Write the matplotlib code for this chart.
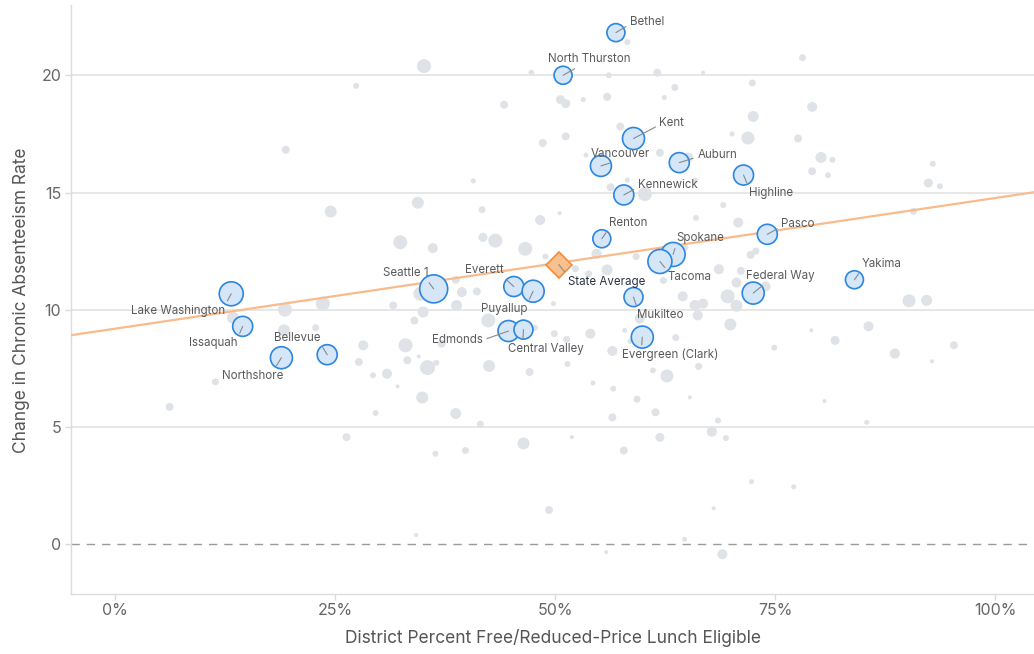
import matplotlib
matplotlib.use("Agg")
import matplotlib.pyplot as plt
import numpy as np

plt.rcParams['font.family'] = ['Inter', 'DejaVu Sans']

# ---------------- data ----------------
# background districts: free/reduced lunch %, change in chronic absenteeism, enrollment (thousands)
other_frl = [58.2, 35.1, 78.1, 27.4, 47.3, 56.1, 61.6, 66.8, 63.6, 62.4, 55.9, 53.2, 50.6, 51.2, 44.2,
             72.4, 79.2, 72.5, 70.1, 71.9, 77.6, 80.2, 81.5, 79.2, 81.0, 92.9, 92.4, 93.7, 69.1, 70.8,
             90.7, 72.2, 72.8, 68.6, 71.1, 70.6, 69.6, 70.6, 66.8, 73.9, 90.2, 92.2, 69.9, 85.6, 79.1,
             74.9, 81.8, 88.6, 92.8, 95.3, 80.6, 85.4, 68.5, 67.8, 69.4, 72.3, 77.1, 68.0, 69.0, 28.2,
             33.0, 27.7, 33.2, 34.5, 35.5, 36.5, 29.3, 30.9, 32.1, 34.9, 29.6, 38.7, 41.5, 42.5, 47.1,
             49.9, 51.3, 54.0, 51.4, 56.5, 54.3, 56.6, 59.3, 56.5, 61.4, 61.9, 57.8, 61.1, 62.7, 65.3,
             63.7, 51.9, 46.4, 39.8, 36.4, 49.3, 34.2, 64.7, 55.8, 26.3, 6.2, 11.4, 19.2, 22.8, 13.4,
             19.3, 23.6, 31.6, 32.4, 19.4, 24.5, 40.7, 48.6, 51.2, 57.4, 53.5, 61.9, 65.1, 58.2, 56.3,
             60.2, 65.9, 34.4, 41.7, 50.5, 48.3, 66.0, 36.1, 41.8, 43.2, 46.6, 48.9, 54.7, 59.2, 55.9,
             53.8, 62.3, 64.5, 65.9, 34.7, 38.7, 39.4, 41.1, 38.8, 35.0, 34.0, 42.4, 49.8, 52.3, 37.1,
             47.7, 64.8, 66.2, 59.6, 57.9, 58.5, 66.3]
other_change = [21.43, 20.40, 20.76, 19.56, 20.12, 20.01, 20.12, 20.12, 19.49, 19.06, 19.09, 18.97, 18.97, 18.80, 18.75,
                19.68, 18.66, 18.25, 17.50, 17.33, 17.31, 16.50, 16.40, 15.91, 15.74, 16.23, 15.41, 15.27, 14.47, 13.72,
                14.20, 12.34, 12.50, 11.73, 11.66, 11.16, 10.57, 10.17, 10.26, 10.99, 10.38, 10.40, 9.37, 9.29, 9.12,
                8.38, 8.69, 8.13, 7.80, 8.48, 6.10, 5.19, 5.27, 4.79, 4.52, 2.66, 2.44, 1.52, -0.44, 8.48,
                8.48, 7.77, 7.84, 8.01, 7.53, 7.73, 7.20, 7.27, 6.73, 6.25, 5.59, 5.57, 5.11, 7.60, 7.34,
                8.98, 8.73, 8.98, 7.68, 8.24, 6.87, 6.63, 6.18, 5.40, 5.62, 4.55, 3.99, 7.41, 7.17, 6.26,
                8.81, 4.56, 4.29, 3.99, 3.85, 1.45, 0.38, 0.20, -0.35, 4.56, 5.85, 6.92, 9.12, 9.23, 9.66,
                10.00, 10.26, 10.18, 12.88, 16.83, 14.19, 15.50, 17.12, 17.40, 17.82, 16.60, 16.70, 16.50, 15.54, 15.23,
                14.94, 15.51, 14.57, 14.27, 14.12, 13.83, 13.92, 12.63, 13.09, 12.95, 12.60, 12.27, 12.39, 12.27, 11.70,
                11.53, 11.25, 10.57, 10.18, 10.68, 11.28, 10.75, 10.78, 10.18, 9.90, 9.54, 9.54, 10.26, 11.75, 8.55,
                9.23, 12.64, 9.76, 9.62, 9.12, 8.65, 7.58]
other_enroll = [2.4, 13.2, 3.3, 2.4, 2.4, 2.4, 4.3, 1.1, 3.3, 1.7, 4.3, 1.7, 5.5, 5.5, 4.3,
                3.3, 6.8, 8.2, 1.7, 11.4, 4.3, 8.2, 2.4, 4.3, 2.4, 2.4, 5.5, 2.4, 2.4, 6.8,
                3.3, 4.3, 3.3, 6.8, 4.3, 6.8, 13.2, 9.7, 6.8, 6.8, 11.4, 8.2, 9.7, 6.8, 1.1,
                2.4, 5.5, 6.8, 1.1, 4.3, 1.1, 1.7, 2.4, 6.8, 2.4, 1.7, 1.7, 1.1, 6.8, 6.8,
                13.2, 4.3, 4.3, 1.1, 15.2, 2.4, 2.4, 6.8, 1.1, 9.7, 2.4, 8.2, 3.3, 9.7, 4.3,
                3.3, 3.3, 6.8, 2.4, 6.8, 1.7, 2.4, 3.3, 4.3, 4.3, 5.5, 4.3, 2.4, 11.4, 1.1,
                3.3, 1.1, 9.7, 3.3, 2.4, 4.3, 1.1, 1.7, 1.1, 4.3, 4.3, 3.3, 9.7, 3.3, 9.7,
                13.2, 13.2, 4.3, 13.2, 4.3, 9.7, 1.7, 4.3, 4.3, 4.3, 1.7, 4.3, 6.8, 1.7, 4.3,
                13.2, 2.4, 9.7, 3.3, 1.1, 6.8, 2.4, 6.8, 5.5, 13.2, 13.2, 2.4, 6.8, 3.3, 8.2,
                3.3, 3.3, 6.8, 8.2, 13.2, 4.3, 6.8, 4.3, 8.2, 8.2, 4.3, 13.2, 1.7, 3.3, 4.3,
                2.4, 2.4, 6.8, 6.8, 1.7, 1.7, 3.3]

# highlighted districts
hl_names = ["Bethel", "North Thurston", "Kent", "Vancouver", "Auburn", "Kennewick", "Renton",
            "Spokane", "Tacoma", "Seattle 1", "Everett", "Puyallup", "Mukilteo", "Highline",
            "Pasco", "Federal Way", "Yakima", "Lake Washington", "Issaquah", "Northshore",
            "Bellevue", "Edmonds", "Central Valley", "Evergreen (Clark)"]
hl_frl = [56.9, 50.9, 58.9, 55.2, 64.1, 57.8, 55.3, 63.4, 61.9, 36.2, 45.3, 47.5, 58.9, 71.4,
          74.1, 72.5, 84.0, 13.2, 14.5, 18.9, 24.1, 44.7, 46.4, 59.9]
hl_change = [21.83, 20.01, 17.31, 16.14, 16.28, 14.90, 13.03, 12.36, 12.06, 10.89, 10.99, 10.79,
             10.54, 15.75, 13.22, 10.71, 11.28, 10.68, 9.29, 7.95, 8.08, 9.09, 9.15, 8.83]
hl_enroll = [21.9, 21.9, 32.7, 29.8, 27.0, 27.0, 21.9, 38.9, 38.9, 52.9, 27.0, 32.7, 24.4, 27.0,
             27.0, 32.7, 21.9, 38.9, 27.0, 32.7, 27.0, 29.8, 24.4, 32.7]

state_avg_frl = 50.4
state_avg_change = 11.93

trend_intercept = 9.19
trend_slope = 0.0558

x_ticks = [0, 25, 50, 75, 100]
x_tick_labels = ["0%", "25%", "50%", "75%", "100%"]
y_ticks = [0, 5, 10, 15, 20]

# ---------------- label placement (offset pixels, alignment, leader anchor on text) ----------------
label_pos = {
    "Bethel": (14, 11, "left", (0.0, 0.3)),
    "North Thurston": (26, 16, "center", (0.4, 0.0)),
    "Kent": (26, 16, "left", (0.0, 0.3)),
    "Vancouver": (19, 12, "center", (0.5, 0.0)),
    "Auburn": (18, 8, "left", (0.0, 0.3)),
    "Kennewick": (14, 10, "left", (0.0, 0.3)),
    "Renton": (7, 16, "left", (0.0, 0.0)),
    "Spokane": (3, 16, "left", (0.0, 0.0)),
    "Tacoma": (8, -16, "left", (0.0, 1.0)),
    "Seattle 1": (-28, 16, "center", (0.95, 0.0)),
    "Everett": (-10, 17, "right", (0.95, 0.0)),
    "Puyallup": (-29, -18, "center", (1.0, 1.0)),
    "Mukilteo": (4, -18, "left", (0.0, 1.0)),
    "Highline": (5, -18, "left", (0.0, 1.0)),
    "Pasco": (14, 10, "left", (0.0, 0.3)),
    "Federal Way": (-7, 17, "left", (0.3, 0.0)),
    "Yakima": (7, 16, "left", (0.0, 0.0)),
    "Lake Washington": (-6, -17, "right", (1.0, 1.0)),
    "Issaquah": (-29, -17, "center", (1.0, 1.0)),
    "Northshore": (-29, -18, "center", (0.85, 1.0)),
    "Bellevue": (-30, 17, "center", (1.0, 0.0)),
    "Edmonds": (-51, -9, "center", (1.0, 0.5)),
    "Central Valley": (22, -19, "center", (0.2, 1.0)),
    "Evergreen (Clark)": (28, -18, "center", (0.2, 1.0)),
}

SIZE_PER_K = 7.68

fig = plt.figure(figsize=(10.34, 6.54), dpi=100)
ax = fig.add_axes([0.0687, 0.0913, 0.9313, 0.9007])

ax.set_xlim(-5.0, 104.4)
ax.set_ylim(-2.15, 23.0)

# grid
for yv in y_ticks:
    if yv == 0:
        ax.axhline(yv, color="#9a9a9a", lw=1.0, ls=(0, (6, 5)), zorder=1)
    else:
        ax.axhline(yv, color="#e3e3e3", lw=1.2, zorder=0)

ax.scatter(other_frl, other_change, s=np.array(other_enroll) * SIZE_PER_K,
           color="#dfe3e8", edgecolors="none", zorder=2)

xs = np.array(ax.get_xlim())
ax.plot(xs, trend_intercept + trend_slope * xs, color="#f9bb8c", lw=1.6, zorder=3)

ax.scatter(hl_frl, hl_change, s=np.array(hl_enroll) * SIZE_PER_K,
           facecolor="#d4e6f8", edgecolors="#2d86df", linewidths=1.2, zorder=4)

ax.plot([state_avg_frl], [state_avg_change], marker="D", ms=13.5,
        mfc="#f9c08e", mec="#ef8e3c", mew=1.2, zorder=5, ls="none")

for name, xv, yv in zip(hl_names, hl_frl, hl_change):
    dx, dy, ha, rel = label_pos[name]
    ax.annotate(name, xy=(xv, yv), xytext=(dx, dy), textcoords="offset pixels",
                ha=ha, va="center", fontsize=8.3, color="#5a5a5a",
                arrowprops=dict(arrowstyle="-", color="#8a8a8a", lw=0.8,
                                shrinkA=1, shrinkB=0, relpos=rel),
                zorder=6)

ax.annotate("State Average", xy=(state_avg_frl, state_avg_change), xytext=(9, -17),
            textcoords="offset pixels", ha="left", va="center", fontsize=8.3,
            color="#2a3344",
            arrowprops=dict(arrowstyle="-", color="#8a8a8a", lw=0.8,
                            shrinkA=1, shrinkB=0, relpos=(0.0, 1.0)),
            zorder=6)

# axes styling
for side in ["top", "right"]:
    ax.spines[side].set_visible(False)
for side in ["left", "bottom"]:
    ax.spines[side].set_color("#dcdcdc")
    ax.spines[side].set_linewidth(1.0)

ax.set_xticks(x_ticks)
ax.set_xticklabels(x_tick_labels)
ax.set_yticks(y_ticks)
ax.tick_params(axis="both", colors="#dcdcdc", labelcolor="#666666", labelsize=11.5,
               length=4, width=1.0)
ax.tick_params(axis="x", pad=2)
ax.tick_params(axis="y", pad=3)

ax.set_xlabel("District Percent Free/Reduced-Price Lunch Eligible", fontsize=12.5,
              color="#555555", labelpad=8)
ax.set_ylabel("Change in Chronic Absenteeism Rate", fontsize=12.5, color="#555555",
              labelpad=8)

fig.savefig("out.png", dpi=100)
